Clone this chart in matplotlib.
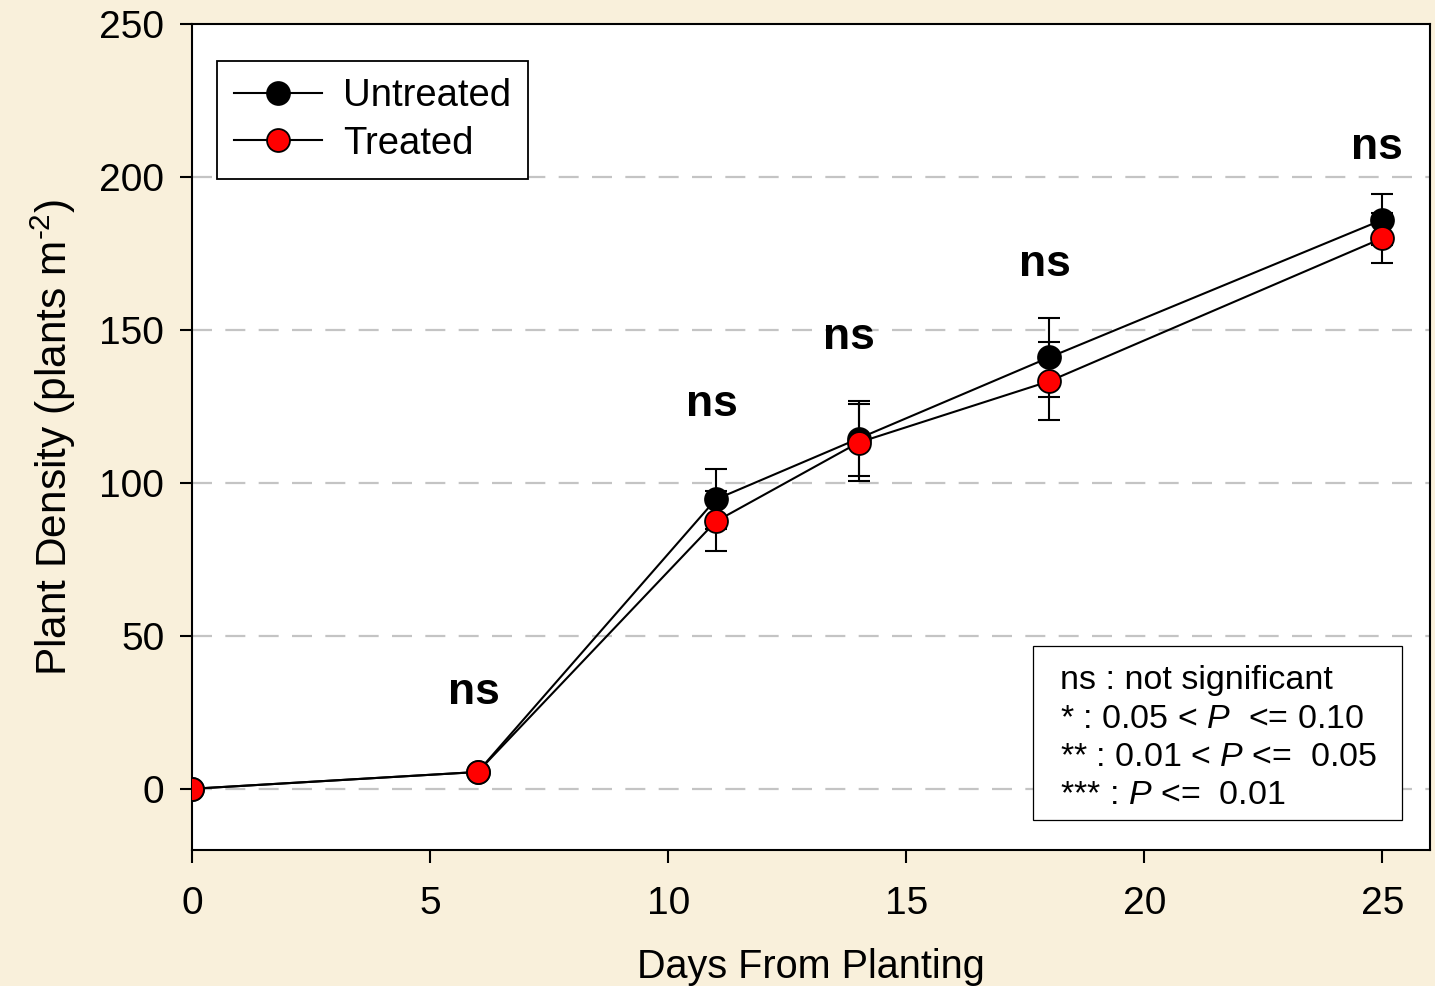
import matplotlib.pyplot as plt
from matplotlib.patches import Rectangle

plt.rcParams['font.family'] = ['Liberation Sans', 'DejaVu Sans']
plt.rcParams['mathtext.fontset'] = 'custom'
plt.rcParams['mathtext.rm'] = 'Liberation Sans'
plt.rcParams['mathtext.it'] = 'Liberation Sans:italic'

# days from planting
days = [0, 6, 11, 14, 18, 25]

# plant density, plants per m2
untreated = [0, 5.5, 94.6, 114.5, 141, 186]
untreated_err = [0, 0.5, 9.8, 12.2, 12.8, 8.4]
treated = [0, 5.5, 87.4, 113.2, 133.2, 180]
treated_err = [0, 0.5, 9.8, 12.6, 12.8, 8.2]

# significance labels and where they sit
sig_labels = ['ns', 'ns', 'ns', 'ns', 'ns']
sig_x = [5.92, 10.92, 13.8, 17.92, 24.88]
sig_y = [31.5, 125.5, 147.5, 171.5, 209.5]

xticks = [0, 5, 10, 15, 20, 25]
yticks = [0, 50, 100, 150, 200, 250]

bg = '#f9f0db'
fig = plt.figure(figsize=(14.35, 9.86), dpi=100, facecolor=bg)
ax = fig.add_axes([192 / 1435, 136 / 986, 1238 / 1435, 826 / 986])
ax.set_facecolor('white')

# dashed grid lines
for y in yticks[:-1]:
    ax.axhline(y, color='#c4c4c4', lw=1.6, dashes=(9, 6), zorder=0)

# error bars
ax.errorbar(days, untreated, yerr=untreated_err, fmt='none', ecolor='black',
            elinewidth=1.5, capsize=8, capthick=1.5, zorder=2)
ax.errorbar(days, treated, yerr=treated_err, fmt='none', ecolor='black',
            elinewidth=1.5, capsize=8, capthick=1.5, zorder=2)

ax.plot(days, untreated, color='black', lw=1.5, marker='o', markersize=16.5,
        markerfacecolor='black', markeredgecolor='black', markeredgewidth=1.3,
        label='Untreated', zorder=3)
ax.plot(days, treated, color='black', lw=1.5, marker='o', markersize=16.5,
        markerfacecolor='red', markeredgecolor='black', markeredgewidth=1.3,
        label='Treated', zorder=4)

for x, y, s in zip(sig_x, sig_y, sig_labels):
    ax.text(x, y, s, ha='center', va='center', fontsize=32, fontweight='bold')

ax.set_xlim(0, 26)
ax.set_ylim(-20, 250)
ax.set_xticks(xticks)
ax.set_yticks(yticks)
ax.tick_params(axis='both', labelsize=28, length=9, width=1.5, direction='out')
ax.tick_params(axis='x', pad=17)
ax.tick_params(axis='y', pad=11)
for sp in ax.spines.values():
    sp.set_linewidth(1.5)

ax.set_xlabel('Days From Planting', fontsize=28.5, labelpad=19)
ax.set_ylabel(r'Plant Density (plants m$^{\text{-2}}$)', fontsize=30.5, labelpad=15)

leg = ax.legend(loc='upper left', bbox_to_anchor=(0.0202, 0.955), borderaxespad=0,
                fontsize=27.5, fancybox=False, framealpha=1, edgecolor='black',
                handlelength=2.3, handletextpad=0.55, borderpad=0.45, labelspacing=0.3)
leg.get_frame().set_linewidth(1.3)

# key for the significance codes
ax.add_patch(Rectangle((0.6793, 0.0363), 0.2981, 0.2107, transform=ax.transAxes,
                       facecolor='white', edgecolor='black', lw=0.9, zorder=5))
note = ('ns : not significant\n'
        '* : 0.05 < $P$  <= 0.10\n'
        '** : 0.01 < $P$ <=  0.05\n'
        '*** : $P$ <=  0.0$1$')
ax.text(0.7011, 0.2235, note, transform=ax.transAxes, fontsize=24.5, va='top', ha='left',
        linespacing=1.3, zorder=6)

fig.savefig('out.png', dpi=100, facecolor=bg)
